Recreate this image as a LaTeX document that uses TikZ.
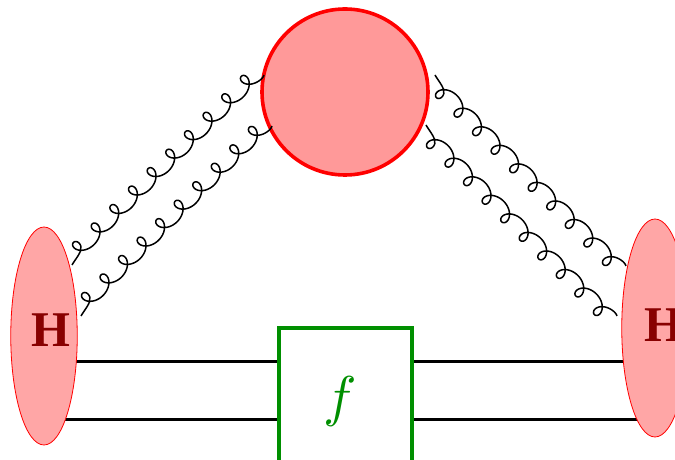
\documentclass[tikz,border=0pt]{standalone}
\usepackage{fontspec}
\setmainfont{Liberation Serif}
\usetikzlibrary{calc,shapes.geometric}
\definecolor{blobfill}{HTML}{FF9999}
\definecolor{hadronfill}{HTML}{FFA6A6}
\definecolor{hadronink}{HTML}{880000}
\definecolor{hardgreen}{HTML}{008F00}
\tikzset{
  hadron/.style={
    ellipse,
    draw=red,
    line width=0.8pt,
    fill=hadronfill,
    minimum width=66.5pt,
    minimum height=218pt,
    inner sep=0pt
  },
  hadronlabel/.style={
    font=\fontsize{50}{50}\selectfont\bfseries,
    text=hadronink,
    inner sep=0pt
  },
  blob/.style={
    circle,
    draw=red,
    line width=3.6pt,
    fill=blobfill,
    minimum size=166pt,
    inner sep=0pt
  },
  hardbox/.style={
    rectangle,
    draw=hardgreen,
    line width=3.4pt,
    fill=white,
    minimum width=133pt,
    minimum height=144pt,
    inner sep=0pt
  },
  hardlabel/.style={
    scale=5.6,
    text=hardgreen,
    inner sep=0pt
  },
  gluon/.style={
    draw=black,
    line width=1.5pt,
    line join=round
  },
  quark/.style={
    draw=black,
    line width=3pt
  }
}
\begin{document}
\begin{tikzpicture}[x=1pt,y=1pt]
  \useasboundingbox (0,0) rectangle (675,460);
  \clip (0,0) rectangle (675,460);

  % quark lines
  \coordinate (quarkLa) at (70,98.5);
  \coordinate (quarkLb) at (60,40);
  \coordinate (quarkRa) at (630,98.5);
  \coordinate (quarkRb) at (640,40);
  \draw[quark] (quarkLa) -- (quarkRa);
  \draw[quark] (quarkLb) -- (quarkRb);

  \node[hadron] (hadronL) at (44,124) {};
  \node[hadron] (hadronR) at (655,132) {};
  \node[hadronlabel] (labelL) at (50.5,130) {H};
  \node[hadronlabel] (labelR) at (664,135) {H};

  \node[blob] (blobtop) at (345,368) {};

  \node[hardbox] (hard) at (345.5,60) {};
  \node[hardlabel] (labelf) at (340,58) {$f$};

  % gluons
  \coordinate (glueLa) at (72,195);
  \coordinate (glueLb) at (81,144);
  \coordinate (glueTa) at (264,385);
  \coordinate (glueTb) at (272,334);
  \coordinate (glueTc) at (435,385);
  \coordinate (glueTd) at (426,335);
  \coordinate (glueRa) at (626,194);
  \coordinate (glueRb) at (617,144);
  \foreach \from/\to/\side in {glueLa/glueTa/1, glueLb/glueTb/1, glueTc/glueRa/-1, glueTd/glueRb/-1} {
    \path let \p1=($(\to)-(\from)$) in \pgfextra{
      \pgfmathsetmacro{\glueangle}{atan2(\y1,\x1)}
      \pgfmathsetmacro{\gluelen}{veclen(\x1,\y1)}
      \pgfmathsetmacro{\gluestep}{(\gluelen-34)/9}
      \global\let\glueangle\glueangle
      \global\let\gluelen\gluelen
      \global\let\gluestep\gluestep
    };
    \draw[gluon, shift={(\from)}, rotate=\glueangle, yscale=\side]
      (0,0) .. controls (7,2) and (16,2) .. (19.5,7)
      -- plot[domain=0:9.75, samples=500] ({17+\gluestep*(\x-0.25)+9*cos(360*\x)}, {7+8*sin(360*\x)})
      .. controls +(3,0) and +(-2,-0.5) .. (\gluelen,0);
  }
\end{tikzpicture}
\end{document}
